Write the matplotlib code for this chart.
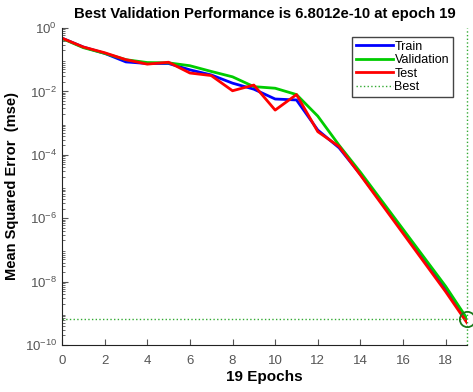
import matplotlib
matplotlib.use('Agg')
import matplotlib.pyplot as plt
import numpy as np
from matplotlib.ticker import LogLocator, NullFormatter

plt.rcParams['font.family'] = ['Liberation Sans', 'DejaVu Sans']

epochs = np.arange(0, 20)
train_log = [-0.32, -0.60, -0.80, -1.07, -1.12, -1.12, -1.32, -1.48, -1.74, -1.93,
             -2.24, -2.27, -3.22, -3.78, -4.62, -5.52, -6.42, -7.32, -8.22, -9.20]
val_log = [-0.33, -0.62, -0.80, -1.00, -1.09, -1.10, -1.19, -1.37, -1.54, -1.85,
           -1.90, -2.10, -2.78, -3.70, -4.55, -5.45, -6.35, -7.25, -8.15, -9.167]
test_log = [-0.32, -0.60, -0.78, -1.00, -1.14, -1.08, -1.42, -1.50, -1.98, -1.80,
            -2.59, -2.10, -3.27, -3.74, -4.64, -5.56, -6.48, -7.40, -8.32, -9.30]
train = 10.0 ** np.array(train_log)
val = 10.0 ** np.array(val_log)
test = 10.0 ** np.array(test_log)

best_epoch = 19
best_perf = 6.8012e-10

fig = plt.figure(figsize=(4.73, 3.92), dpi=100)
ax = fig.add_axes([62/473, 1-345/392, (467-62)/473, (345-28)/392])

ax.plot(epochs, train, color='#0000ff', lw=2, label='Train')
ax.plot(epochs, val, color='#00cc00', lw=2, label='Validation')
ax.plot(epochs, test, color='#ff0000', lw=2, label='Test')
ax.axhline(best_perf, color='#33aa33', lw=1, ls=':', label='Best')
ax.axvline(best_epoch, color='#33aa33', lw=1, ls=':', clip_on=False)
ax.plot([best_epoch], [best_perf], 'o', ms=11, mfc='none', mec='#1a7a1a', mew=1.3, clip_on=False)

ax.set_yscale('log')
ax.set_xlim(0, 19)
ax.set_ylim(1e-10, 1)
ax.set_xticks(np.arange(0, 19, 2))
ax.set_yticks([1e0, 1e-2, 1e-4, 1e-6, 1e-8, 1e-10])
ax.yaxis.set_minor_locator(LogLocator(base=10, subs=np.arange(2, 10), numticks=30))
ax.yaxis.set_minor_formatter(NullFormatter())
ax.tick_params(direction='in', labelsize=9.5, colors='#555555', length=4)
ax.tick_params(which='minor', direction='in', length=2, color='#555555')
ax.tick_params(axis='x', pad=7)

for s in ['top', 'right']:
    ax.spines[s].set_visible(False)
for s in ['left', 'bottom']:
    ax.spines[s].set_color('#222222')

ax.set_title('Best Validation Performance is 6.8012e-10 at epoch 19',
             fontsize=10.7, fontweight='bold', pad=7)
ax.set_xlabel('19 Epochs', fontsize=11, fontweight='bold', labelpad=2)
ax.set_ylabel('Mean Squared Error  (mse)', fontsize=10.5, fontweight='bold', labelpad=4)

leg = ax.legend(loc='upper right', fontsize=9, fancybox=False, framealpha=1,
                edgecolor='#444444', handlelength=3.0, handletextpad=0.1,
                borderpad=0.3, labelspacing=0.12, borderaxespad=0.0,
                bbox_to_anchor=(0.965, 0.972))
leg.get_frame().set_linewidth(1)

fig.savefig('out.png', dpi=100)
